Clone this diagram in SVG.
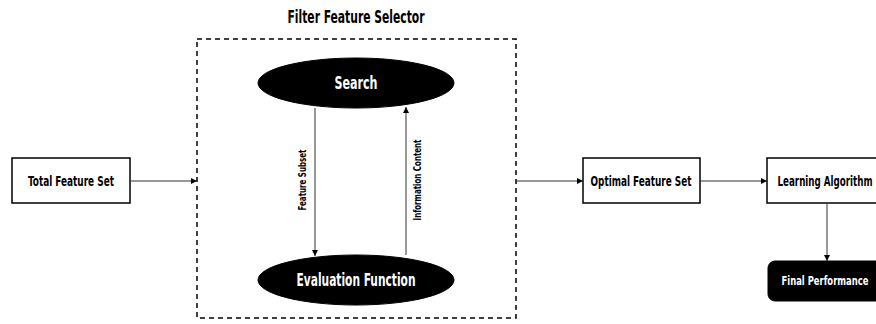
<svg xmlns="http://www.w3.org/2000/svg" width="876" height="324" viewBox="0 0 876 324">
<style>
.t{font-family:"DejaVu Sans Condensed","Liberation Sans Narrow","Liberation Sans",sans-serif;font-weight:bold;text-anchor:middle}
.box{fill:#fff;stroke:#000;stroke-width:1.5}
.dark{fill:#000;stroke:#000}
.w{fill:#fff}
.k{fill:#000}
.c{stroke:#333;stroke-width:1;fill:none;marker-end:url(#ah)}
</style>
<defs>
<marker id="ah" viewBox="0 0 10 10" refX="10" refY="5" markerWidth="6" markerHeight="6" orient="auto" markerUnits="userSpaceOnUse">
<path d="M0,0 L10,5 L0,10 z" fill="#000"/>
</marker>
</defs>
<rect width="876" height="324" fill="#fff"/>
<g id="selector">
<text class="t k" x="356" y="23" font-size="17" textLength="137" lengthAdjust="spacingAndGlyphs">Filter Feature Selector</text>
<rect x="197" y="39" width="319" height="279" fill="none" stroke="#000" stroke-width="1.5" stroke-dasharray="5,4"/>
</g>
<g id="search">
<ellipse class="dark" cx="356" cy="83" rx="98" ry="25"/>
<text class="t w" x="356" y="89" font-size="17" textLength="43" lengthAdjust="spacingAndGlyphs">Search</text>
</g>
<g id="evaluation">
<ellipse class="dark" cx="356" cy="280" rx="98" ry="25"/>
<text class="t w" x="356" y="286" font-size="17" textLength="119" lengthAdjust="spacingAndGlyphs">Evaluation Function</text>
</g>
<g id="total">
<rect class="box" x="12" y="158" width="118" height="45"/>
<text class="t k" x="71" y="186" font-size="14" textLength="86" lengthAdjust="spacingAndGlyphs">Total Feature Set</text>
</g>
<g id="optimal">
<rect class="box" x="583" y="158" width="117" height="45"/>
<text class="t k" x="641" y="186" font-size="14" textLength="101" lengthAdjust="spacingAndGlyphs">Optimal Feature Set</text>
</g>
<g id="learning">
<rect class="box" x="767" y="158" width="118" height="45"/>
<text class="t k" transform="translate(825,186) scale(0.69,1)" font-size="14" textLength="137.7" lengthAdjust="spacingAndGlyphs">Learning Algorithm</text>
</g>
<g id="final">
<rect class="dark" x="768" y="261" width="118" height="40" rx="7"/>
<text class="t w" transform="translate(825,285) scale(0.73,1)" font-size="13" textLength="119.2" lengthAdjust="spacingAndGlyphs">Final Performance</text>
</g>
<g id="connectors">
<line class="c" x1="130" y1="181" x2="197" y2="181"/>
<line class="c" x1="516" y1="181" x2="583" y2="181"/>
<line class="c" x1="700" y1="181" x2="767" y2="181"/>
<line class="c" x1="827" y1="203" x2="827" y2="261"/>
<line class="c" x1="315" y1="108" x2="315" y2="256"/>
<line class="c" x1="406" y1="255" x2="406" y2="107"/>
<text class="t k" transform="translate(306,180) rotate(-90)" font-size="10" textLength="61" lengthAdjust="spacingAndGlyphs">Feature Subset</text>
<text class="t k" transform="translate(421,180) rotate(-90)" font-size="10" textLength="81" lengthAdjust="spacingAndGlyphs">Information Content</text>
</g>
</svg>
